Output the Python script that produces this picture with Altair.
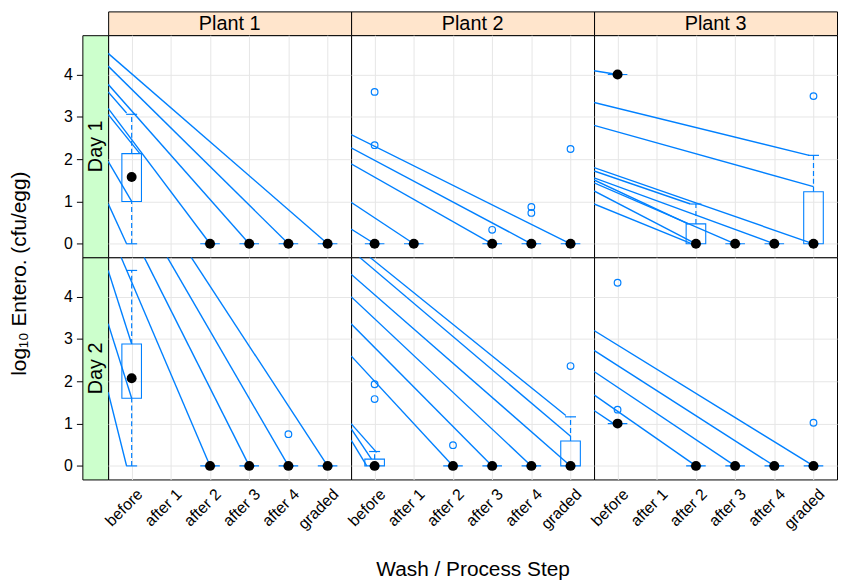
import altair as alt
import pandas as pd

# ---------------- data ----------------
STEPS = ["before", "after 1", "after 2", "after 3", "after 4", "graded"]
PLANTS = ["Plant 1", "Plant 2", "Plant 3"]
DAYS = ["Day 1", "Day 2"]

# box-and-whisker statistics (step index 1..6)
box_plant = ["Plant 1"] * 10 + ["Plant 2"] * 10 + ["Plant 3"] * 10
box_day = (["Day 1"] * 5 + ["Day 2"] * 5) * 3
box_step = [1, 3, 4, 5, 6, 1, 3, 4, 5, 6,
            1, 2, 4, 5, 6, 1, 3, 4, 5, 6,
            1, 3, 4, 5, 6, 1, 3, 4, 5, 6]
box_lo = [0, 0, 0, 0, 0, 0, 0, 0, 0, 0,
          0, 0, 0, 0, 0, 0, 0, 0, 0, 0,
          4.0, 0, 0, 0, 0, 1.0, 0, 0, 0, 0]
box_q1 = [1.0, 0, 0, 0, 0, 1.60, 0, 0, 0, 0,
          0, 0, 0, 0, 0, 0, 0, 0, 0, 0,
          4.0, 0, 0, 0, 0, 1.0, 0, 0, 0, 0]
box_med = [1.58, 0, 0, 0, 0, 2.07, 0, 0, 0, 0,
           0, 0, 0, 0, 0, 0, 0, 0, 0, 0,
           4.0, 0, 0, 0, 0, 1.0, 0, 0, 0, 0]
box_q3 = [2.13, 0, 0, 0, 0, 2.88, 0, 0, 0, 0,
          0, 0, 0, 0, 0, 0.16, 0, 0, 0, 0.59,
          4.0, 0.47, 0, 0, 1.23, 1.0, 0, 0, 0, 0]
box_hi = [3.06, 0, 0, 0, 0, 4.62, 0, 0, 0, 0,
          0, 0, 0, 0, 0, 0.34, 0, 0, 0, 1.16,
          4.0, 0.94, 0, 0, 2.09, 1.0, 0, 0, 0, 0]

# outliers
out_plant = ["Plant 1", "Plant 2", "Plant 2", "Plant 2", "Plant 2", "Plant 2", "Plant 2",
             "Plant 2", "Plant 2", "Plant 2", "Plant 2", "Plant 3", "Plant 3", "Plant 3", "Plant 3"]
out_day = ["Day 2", "Day 1", "Day 1", "Day 1", "Day 1", "Day 1", "Day 1",
           "Day 2", "Day 2", "Day 2", "Day 2", "Day 1", "Day 2", "Day 2", "Day 2"]
out_step = [5, 1, 1, 4, 5, 5, 6, 1, 1, 3, 6, 6, 1, 1, 6]
out_val = [0.75, 3.59, 2.33, 0.33, 0.87, 0.73, 2.24, 1.93, 1.58, 0.49, 2.36, 3.49, 4.33, 1.33, 1.02]

# straight line segments drawn across the panels
seg_plant = (["Plant 1"] * 8 + ["Plant 1"] * 7 + ["Plant 2"] * 5 + ["Plant 2"] * 9
             + ["Plant 3"] * 10 + ["Plant 3"] * 5)
seg_day = (["Day 1"] * 8 + ["Day 2"] * 7 + ["Day 1"] * 5 + ["Day 2"] * 9
           + ["Day 1"] * 10 + ["Day 2"] * 5)
seg_x1 = [0.4, 0.4, 0.4, 0.4, 0.4, 0.4, 0.4, 0.4,
          0.73, 1.32, 1.91, 2.52, 0.4, 0.4, 0.4,
          0.4, 0.4, 0.4, 0.4, 0.4,
          0.615, 0.88, 0.4, 0.4, 0.4, 0.4, 0.4, 0.4, 0.4,
          0.4, 0.4, 0.4, 0.4, 0.4, 0.4, 0.4, 0.4, 0.4, 0.4,
          0.4, 0.4, 0.4, 0.4, 0.4]
seg_y1 = [4.50, 4.20, 3.77, 3.59, 3.20, 3.06, 1.95, 0.95,
          4.93, 4.93, 4.93, 4.93, 4.62, 3.36, 1.74,
          2.58, 2.27, 1.89, 0.98, 0.35,
          4.93, 4.93, 4.53, 4.00, 3.36, 2.60, 1.00, 0.88, 0.61,
          4.09, 3.34, 2.80, 1.80, 1.72, 1.56, 1.51, 1.44, 1.25, 0.94,
          3.20, 2.73, 2.23, 1.68, 1.31]
seg_x2 = [6, 5, 4, 0.87, 3, 1.21, 1.0, 0.87,
          3, 4, 5, 6, 1.0, 1.0, 0.87,
          6, 5, 4, 2, 1,
          6.0, 5.88, 6, 5, 4, 3, 1.05, 0.92, 0.8,
          1.0, 5.89, 6.0, 6, 2.86, 5, 2.8, 4, 3, 2.9,
          6, 5, 4, 3, 0.9]
seg_y2 = [0, 0, 0, 3.09, 0, 2.13, 1.0, 0,
          0, 0, 0, 0, 2.88, 1.60, 0,
          0, 0, 0, 0, 0,
          0.70, 1.19, 0, 0, 0, 0, 0.32, 0.16, 0,
          4.0, 2.09, 1.35, 0, 0.94, 0, 0.47, 0, 0, 0,
          0, 0, 0, 0, 1.0]

# ---------------- styling ----------------
BLUE = "#0080ff"
GRID = "#e6e6e6"
FONT = "Liberation Sans"
PW, PH = 245, 224
XDOM = [0.4, 6.6]
YDOM = [-0.32, 4.93]
LABEL_EXPR = "[" + ",".join("'" + s + "'" for s in STEPS) + "][datum.value - 1]"

box_df = pd.DataFrame(dict(plant=box_plant, day=box_day, i=box_step, lo=box_lo,
                           q1=box_q1, med=box_med, q3=box_q3, hi=box_hi))
box_df["xl"] = box_df["i"] - 0.25
box_df["xr"] = box_df["i"] + 0.25
box_df["cl"] = box_df["i"] - 0.14
box_df["cr"] = box_df["i"] + 0.14
out_df = pd.DataFrame(dict(plant=out_plant, day=out_day, i=out_step, v=out_val))
seg_df = pd.DataFrame(dict(plant=seg_plant, day=seg_day, x1=seg_x1, y1=seg_y1, x2=seg_x2, y2=seg_y2))

xscale = alt.Scale(domain=XDOM, nice=False, zero=False)
yscale = alt.Scale(domain=YDOM, nice=False, zero=False)


def panel(plant, day, bottom, with_title):
    flt = f"datum.plant == '{plant}' && datum.day == '{day}'"
    if bottom:
        xkw = dict(values=[1, 2, 3, 4, 5, 6], labelExpr=LABEL_EXPR, labelAngle=-45,
                   labelAlign="right", labelBaseline="middle", labelFontSize=16,
                   labelPadding=12, labelOffset=8, labelColor="black", labelOverlap=False,
                   labelFlush=False, labelBound=False, ticks=False,
                   domain=False, grid=True, gridColor=GRID, titleFontSize=21,
                   titleFontWeight="normal", titleColor="black", titlePadding=27)
        xkw["title"] = "Wash / Process Step" if with_title else None
        xax = alt.Axis(**xkw)
    else:
        xax = alt.Axis(values=[1, 2, 3, 4, 5, 6], labels=False, ticks=False, domain=False,
                       grid=True, gridColor=GRID, title=None)
    yax = alt.Axis(values=[0, 1, 2, 3, 4], labels=False, ticks=False, domain=False,
                   grid=True, gridColor=GRID, title=None)

    def X(f):
        return alt.X(f, type="quantitative", scale=xscale, axis=xax)

    def Y(f):
        return alt.Y(f, type="quantitative", scale=yscale, axis=yax)

    segs = alt.Chart(seg_df).transform_filter(flt).mark_rule(
        color=BLUE, strokeWidth=1.4, clip=True).encode(
        x=X("x1"), x2="x2", y=Y("y1"), y2="y2")
    bx = alt.Chart(box_df).transform_filter(flt)
    rect = bx.mark_rect(filled=False, color=BLUE, strokeWidth=1.1).encode(
        x=X("xl"), x2="xr", y=Y("q1"), y2="q3")
    wu = bx.mark_rule(color=BLUE, strokeDash=[5, 3], strokeWidth=1.2).encode(
        x=X("i"), y=Y("q3"), y2="hi")
    wl = bx.mark_rule(color=BLUE, strokeDash=[5, 3], strokeWidth=1.2).encode(
        x=X("i"), y=Y("lo"), y2="q1")
    cu = bx.mark_rule(color=BLUE, strokeWidth=1.2).encode(x=X("cl"), x2="cr", y=Y("hi"))
    cl = bx.mark_rule(color=BLUE, strokeWidth=1.2).encode(x=X("cl"), x2="cr", y=Y("lo"))
    outs = alt.Chart(out_df).transform_filter(flt).mark_point(
        shape="circle", filled=False, color=BLUE, size=45, strokeWidth=1.2, opacity=1).encode(
        x=X("i"), y=Y("v"))
    med = bx.mark_circle(color="black", size=100, opacity=1).encode(x=X("i"), y=Y("med"))
    return alt.layer(segs, rect, wu, wl, cu, cl, outs, med).properties(
        width=PW, height=PH,
        view=alt.ViewBackground(stroke="black", strokeWidth=1, fill="white"))


def top_strip(plant):
    return alt.Chart(pd.DataFrame({"label": [plant]})).mark_text(
        fontSize=20, font=FONT, color="black").encode(
        text="label:N", x=alt.value(PW / 2), y=alt.value(13)).properties(
        width=PW, height=24,
        view=alt.ViewBackground(fill="#ffe5cc", stroke="black", strokeWidth=1))


def left_strip(day, with_title):
    txt = alt.Chart(pd.DataFrame({"label": [day]})).mark_text(
        fontSize=20, font=FONT, color="black", angle=270).encode(
        text="label:N", x=alt.value(14), y=alt.value(PH / 2))
    akw = dict(values=[0, 1, 2, 3, 4], tickSize=6, labelPadding=4,
               labelFontSize=16, labelColor="black", tickColor="black",
               domain=False, grid=False)
    if with_title:
        akw.update(title="log\u2081\u2080 Entero. (cfu/egg)", titleFontSize=21,
                   titleFontWeight="normal", titleColor="black", titleAngle=270,
                   titleX=-63, titleY=PH + 16, titleAlign="center", titleBaseline="middle")
    else:
        akw["title"] = None
    ax = alt.Chart(pd.DataFrame({"v": [0]})).mark_point(opacity=0, size=1).encode(
        y=alt.Y("v:Q", scale=yscale, axis=alt.Axis(**akw)))
    return alt.layer(ax, txt).properties(
        width=26, height=PH,
        view=alt.ViewBackground(fill="#ccffcc", stroke="black", strokeWidth=1))


spacer = alt.Chart(pd.DataFrame({"v": [0]})).mark_rect(opacity=0).encode(
    x=alt.value(0), x2=alt.value(1), y=alt.value(0), y2=alt.value(1)).properties(
    width=26, height=24)

cells = [spacer] + [top_strip(p) for p in PLANTS]
cells += [left_strip("Day 1", True)] + [panel(p, "Day 1", False, False) for p in PLANTS]
cells += [left_strip("Day 2", False)] + [panel(p, "Day 2", True, k == 1)
                                         for k, p in enumerate(PLANTS)]

chart = alt.concat(*cells, columns=4, spacing=0, bounds="flush").properties(
    padding=0).configure_view(stroke=None).configure_axis(
    labelFont=FONT, titleFont=FONT).configure_text(font=FONT)

chart.save("out.html", embed_options={"renderer": "svg", "actions": False})
